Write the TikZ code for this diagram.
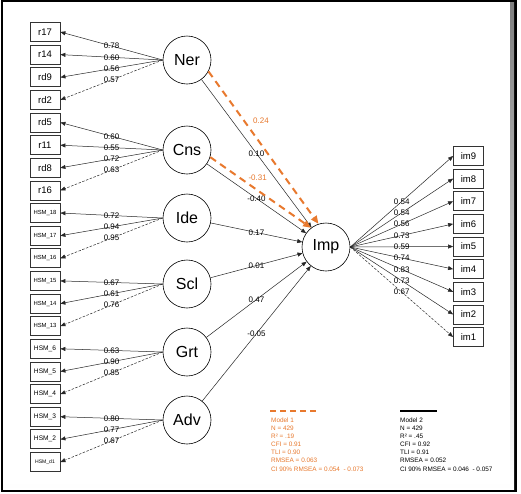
\documentclass[tikz,border=0pt]{standalone}
\usepackage{fontspec}
\setmainfont{Liberation Sans}
\usetikzlibrary{arrows.meta}
\definecolor{orng}{RGB}{232,121,46}
\definecolor{shade}{RGB}{165,165,165}
\begin{document}
\begin{tikzpicture}[x=1pt,y=-1pt,
  lat/.style={circle,draw=black,line width=0.6pt,fill=white,minimum size=48pt,inner sep=0pt,font=\fontsize{16}{16}\selectfont},
  obs/.style={rectangle,draw=black!80,line width=0.8pt,fill=white,minimum width=30pt,minimum height=19pt,inner sep=0pt,font=\fontsize{9.5}{9.5}\selectfont},
  hsmA/.style={obs,font=\fontsize{5.9}{6}\selectfont},
  hsmB/.style={obs,font=\fontsize{6.6}{7}\selectfont},
  hsmC/.style={obs,font=\fontsize{5.1}{6}\selectfont},
  load/.style={draw=black!85,line width=0.5pt,-{Triangle[length=5pt,width=4pt]}},
  refload/.style={load,dash pattern=on 2.5pt off 1.5pt},
  elab/.style={font=\fontsize{8}{8}\selectfont,inner sep=0pt},
  modone/.style={draw=orng,line width=2pt,dash pattern=on 7pt off 5pt,-{Triangle[length=8pt,width=6.5pt,fill=orng]}},
  olab/.style={elab,text=orng},
  legtxt/.style={font=\fontsize{6.4}{6.4}\selectfont,inner sep=0pt,anchor=base west}
]
\useasboundingbox (0,0) rectangle (521,493);
% frame
\fill[black] (1,0) rectangle (517,492);
\fill[shade] (3,2) rectangle (514,489);
\fill[white] (3,2) rectangle (510,484);

% latent variables
\node[lat] (ner) at (187,60) {Ner};
\node[lat] (cns) at (187,150) {Cns};
\node[lat] (ide) at (187,218) {Ide};
\node[lat] (scl) at (187,284) {Scl};
\node[lat] (grt) at (187,352) {Grt};
\node[lat] (adv) at (187,420) {Adv};
\node[lat] (imp) at (326,247) {Imp};

% left indicators
\node[obs] (r17) at (45,32) {r17};
\node[obs] (r14) at (45,54.6) {r14};
\node[obs] (rd9) at (45,77.3) {rd9};
\node[obs] (rd2) at (45,99.9) {rd2};
\node[obs] (rd5) at (45,122.5) {rd5};
\node[obs] (r11) at (45,145.2) {r11};
\node[obs] (rd8) at (45,167.8) {rd8};
\node[obs] (r16) at (45,190.4) {r16};
\node[hsmA] (h18) at (45,213) {HSM\_18};
\node[hsmA] (h17) at (45,235.7) {HSM\_17};
\node[hsmA] (h16) at (45,258.3) {HSM\_16};
\node[hsmA] (h15) at (45,280.9) {HSM\_15};
\node[hsmA] (h14) at (45,303.6) {HSM\_14};
\node[hsmA] (h13) at (45,326.2) {HSM\_13};
\node[hsmB] (h6) at (45,348.8) {HSM\_6};
\node[hsmB] (h5) at (45,371.5) {HSM\_5};
\node[hsmB] (h4) at (45,394.1) {HSM\_4};
\node[hsmB] (h3) at (45,416.7) {HSM\_3};
\node[hsmB] (h2) at (45,439.3) {HSM\_2};
\node[hsmC] (hd1) at (45,462) {HSM\_d1};

% right indicators
\node[obs] (im9) at (468.5,156) {im9};
\node[obs] (im8) at (468.5,178.6) {im8};
\node[obs] (im7) at (468.5,201.3) {im7};
\node[obs] (im6) at (468.5,223.9) {im6};
\node[obs] (im5) at (468.5,246.5) {im5};
\node[obs] (im4) at (468.5,269.1) {im4};
\node[obs] (im3) at (468.5,291.8) {im3};
\node[obs] (im2) at (468.5,314.4) {im2};
\node[obs] (im1) at (468.5,337) {im1};

% loadings
\foreach \b/\v in {r17/0.78,r14/0.60,rd9/0.56}
  \draw[load] (ner.west) -- node[elab]{\v} (\b.east);
\draw[refload] (ner.west) -- node[elab]{0.57} (rd2.east);
\foreach \b/\v in {rd5/0.60,r11/0.55,rd8/0.72}
  \draw[load] (cns.west) -- node[elab]{\v} (\b.east);
\draw[refload] (cns.west) -- node[elab]{0.63} (r16.east);
\foreach \b/\v in {h18/0.72,h17/0.94}
  \draw[load] (ide.west) -- node[elab]{\v} (\b.east);
\draw[refload] (ide.west) -- node[elab]{0.95} (h16.east);
\foreach \b/\v in {h15/0.67,h14/0.61}
  \draw[load] (scl.west) -- node[elab]{\v} (\b.east);
\draw[refload] (scl.west) -- node[elab]{0.76} (h13.east);
\foreach \b/\v in {h6/0.63,h5/0.90}
  \draw[load] (grt.west) -- node[elab]{\v} (\b.east);
\draw[refload] (grt.west) -- node[elab]{0.85} (h4.east);
\foreach \b/\v in {h3/0.80,h2/0.77}
  \draw[load] (adv.west) -- node[elab]{\v} (\b.east);
\draw[refload] (adv.west) -- node[elab]{0.67} (hd1.east);

\foreach \b/\v in {im9/0.54,im8/0.54,im7/0.56,im6/0.73,im5/0.59,im4/0.74,im3/0.83,im2/0.73}
  \draw[load] (imp.east) -- node[elab]{\v} (\b.west);
\draw[refload] (imp.east) -- node[elab]{0.67} (im1.west);

% structural paths (model 2)
\draw[load] (ner) -- node[elab]{0.10} (imp);
\draw[load] (cns) -- node[elab]{-0.40} (imp);
\draw[load] (ide) -- node[elab]{0.17} (imp);
\draw[load] (scl) -- node[elab]{0.01} (imp);
\draw[load] (grt) -- node[elab]{0.47} (imp);
\draw[load] (adv) -- node[elab]{-0.05} (imp);

% model 1 paths
\draw[modone] (ner.-28) -- node[olab,pos=0.325,anchor=west,xshift=8pt]{0.24} (imp.108);
\draw[modone] (cns.-17) -- node[olab,pos=0.47,yshift=12.7pt]{-0.31} (imp.128);

% legend
\coordinate (l1a) at (270,411);
\coordinate (l1b) at (317,411);
\coordinate (l2a) at (400,411);
\coordinate (l2b) at (437,411);
\draw[orng,line width=1.5pt,dash pattern=on 6pt off 4pt] (l1a) -- (l1b);
\draw[black,line width=1.2pt] (l2a) -- (l2b);
\foreach \t [count=\i from 0] in {Model 1,N = 429,R² = .19,CFI = 0.91,TLI = 0.90,RMSEA = 0.063,CI 90\% RMSEA = 0.054\ \ - 0.073}
  \node[legtxt,text=orng] (ma\i) at (271,422+8.17*\i) {\t};
\foreach \t [count=\i from 0] in {Model 2,N = 429,R² = .45,CFI = 0.92,TLI = 0.91,RMSEA = 0.052,CI 90\% RMSEA = 0.046\ \ - 0.057}
  \node[legtxt,text=black] (mb\i) at (400,422+8.17*\i) {\t};
\end{tikzpicture}
\end{document}
